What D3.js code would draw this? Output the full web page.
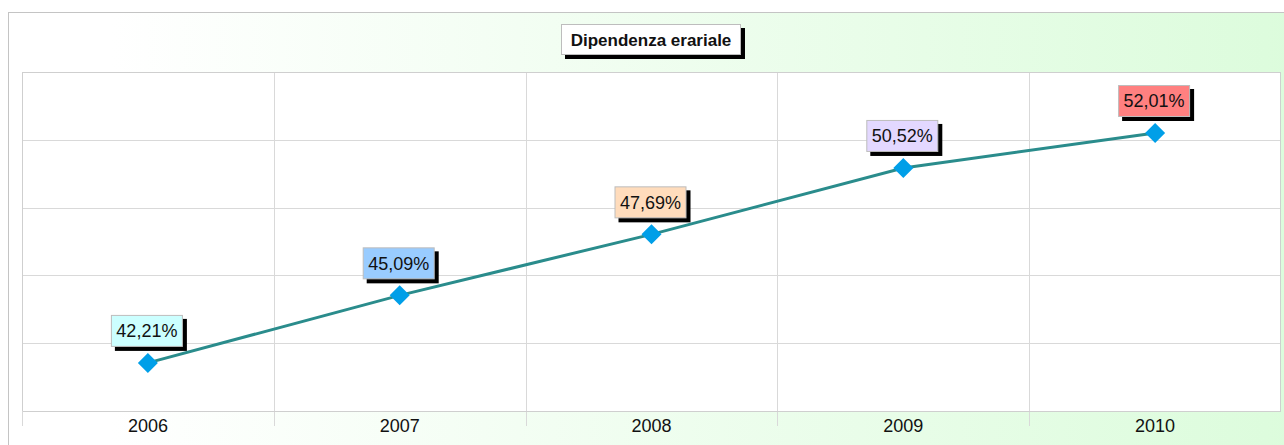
<!DOCTYPE html>
<html>
<head>
<meta charset="utf-8">
<script src="https://cdn.jsdelivr.net/npm/d3@7"></script>
<style>
  body { margin: 0; background: #fff; }
  svg { display: block; font-family: Arial, "Liberation Sans", sans-serif; }
</style>
</head>
<body>
<div id="chart"></div>
<script>
// data
var years = ["2006", "2007", "2008", "2009", "2010"];
var values = [42.21, 45.09, 47.69, 50.52, 52.01];
var labelColors = ["#ccffff", "#99ccff", "#ffdcbc", "#e3d8ff", "#ff8080"];
var title = "Dipendenza erariale";

var width = 1284, height = 445;
var plot = { left: 22, top: 72, right: 1281, bottom: 411 };

var svg = d3.select("#chart").append("svg")
    .attr("width", width)
    .attr("height", height);

var defs = svg.append("defs");
var grad = defs.append("linearGradient").attr("id", "bg")
    .attr("x1", "0%").attr("x2", "100%").attr("y1", "0%").attr("y2", "0%");
grad.append("stop").attr("offset", "0%").attr("stop-color", "#ffffff");
grad.append("stop").attr("offset", "8%").attr("stop-color", "#ffffff");
grad.append("stop").attr("offset", "100%").attr("stop-color", "#dcfcdc");

// outer frame
svg.append("rect")
    .attr("x", 8.5).attr("y", 12.5)
    .attr("width", 1290).attr("height", 450)
    .attr("fill", "url(#bg)")
    .attr("stroke", "#c4c4c4");

// plot area
svg.append("rect")
    .attr("x", plot.left).attr("y", plot.top)
    .attr("width", plot.right - plot.left).attr("height", plot.bottom - plot.top)
    .attr("fill", "#fff");

var x = d3.scaleBand().domain(years).range([plot.left, plot.right]);
var y = d3.scaleLinear().domain([40.16, 54.61]).range([plot.bottom, plot.top]);

// horizontal grid
var yTicks = d3.range(6).map(function(i) { return 40.16 + i * (54.61 - 40.16) / 5; });
svg.append("g").selectAll("line")
    .data(yTicks)
    .enter().append("line")
    .attr("x1", plot.left).attr("x2", plot.right)
    .attr("y1", function(d) { return Math.round(y(d)) + 0.5; })
    .attr("y2", function(d) { return Math.round(y(d)) + 0.5; })
    .attr("stroke", "#d9d9d9");

// vertical grid (band edges), extending below axis
svg.append("g").selectAll("line")
    .data(years.slice(1))
    .enter().append("line")
    .attr("x1", function(d) { return Math.round(x(d)) + 0.5; })
    .attr("x2", function(d) { return Math.round(x(d)) + 0.5; })
    .attr("y1", plot.top).attr("y2", plot.bottom + 15)
    .attr("stroke", "#d9d9d9");

// plot border
svg.append("rect")
    .attr("x", plot.left + 0.5).attr("y", plot.top + 0.5)
    .attr("width", plot.right - plot.left - 1).attr("height", plot.bottom - plot.top)
    .attr("fill", "none")
    .attr("stroke", "#cfcfcf");
svg.append("line")
    .attr("x1", plot.left).attr("x2", plot.left)
    .attr("y1", plot.bottom).attr("y2", plot.bottom + 15)
    .attr("transform", "translate(0.5,0)")
    .attr("stroke", "#d9d9d9");

// x axis labels
var xAxis = d3.axisBottom(x).tickSize(0).tickPadding(8);
var ax = svg.append("g").attr("transform", "translate(0," + plot.bottom + ")").call(xAxis);
ax.select(".domain").remove();
ax.selectAll("text")
    .attr("font-size", 18)
    .attr("font-family", "Arial, 'Liberation Sans', sans-serif")
    .attr("fill", "#111");

var cx = function(i) { return x(years[i]) + x.bandwidth() / 2; };

// line
var line = d3.line()
    .x(function(d, i) { return cx(i); })
    .y(function(d) { return y(d); });
svg.append("path")
    .datum(values)
    .attr("d", line)
    .attr("fill", "none")
    .attr("stroke", "#2a8c8c")
    .attr("stroke-width", 3);

// diamond markers
svg.append("g").selectAll("path")
    .data(values)
    .enter().append("path")
    .attr("d", "M0,-10L10,0L0,10L-10,0Z")
    .attr("transform", function(d, i) { return "translate(" + cx(i) + "," + y(d) + ")"; })
    .attr("fill", "#009fe8");

// value labels
function fmt(v) { return v.toFixed(2).replace(".", ",") + "%"; }
function boxLabel(g, cxp, top, w, h, fill, text, bold, fs) {
    g.append("rect")
        .attr("x", cxp - w / 2 + 4).attr("y", top + 4)
        .attr("width", w).attr("height", h)
        .attr("fill", "#000");
    g.append("rect")
        .attr("x", cxp - w / 2 + 0.5).attr("y", top + 0.5)
        .attr("width", w - 1).attr("height", h - 1)
        .attr("fill", fill)
        .attr("stroke", "#bdbdbd");
    g.append("text")
        .attr("x", cxp).attr("y", top + h / 2)
        .attr("dy", "0.36em")
        .attr("text-anchor", "middle")
        .attr("font-size", fs)
        .attr("font-weight", bold ? "bold" : "normal")
        .attr("fill", "#111")
        .text(text);
}

var labels = svg.append("g");
values.forEach(function(v, i) {
    boxLabel(labels, cx(i) - 1, y(v) - 48, 72, 32, labelColors[i], fmt(v), false, 18);
});

// title
boxLabel(svg.append("g"), 651, 24, 180, 31, "#fff", title, true, 17);
</script>
</body>
</html>
